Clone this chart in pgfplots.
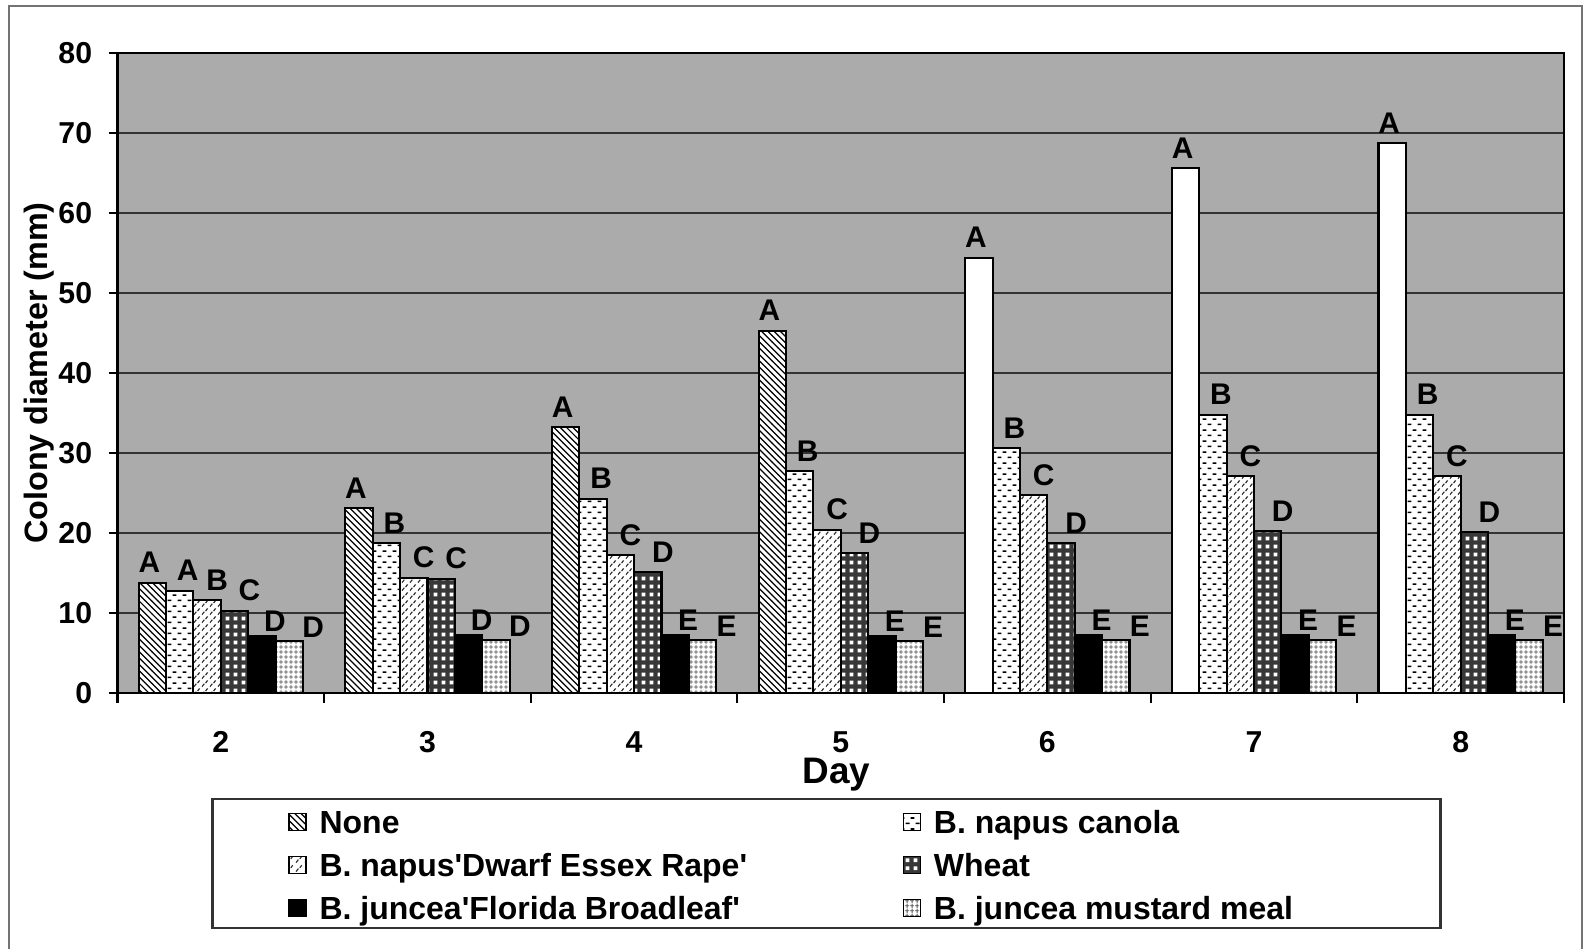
\documentclass[border=0pt]{standalone}
\usepackage{fontspec}
\setmainfont{Liberation Sans}
\usepackage{pgfplots}
\pgfplotsset{compat=1.18}
\usepackage{pgfplotstable}
\usetikzlibrary{patterns}

\pgfdeclarepatternformonly{nwfine}{\pgfqpoint{-0.5pt}{-0.5pt}}{\pgfqpoint{2.3pt}{2.3pt}}{\pgfqpoint{1.8pt}{1.8pt}}{%
  \pgfsetlinewidth{0.35pt}%
  \pgfpathmoveto{\pgfqpoint{0pt}{1.8pt}}%
  \pgfpathlineto{\pgfqpoint{1.86pt}{-0.06pt}}%
  \pgfusepath{stroke}}
\pgfdeclarepatternformonly{dashrows}{\pgfqpoint{0pt}{0pt}}{\pgfqpoint{2.8pt}{3.2pt}}{\pgfqpoint{2.8pt}{3.2pt}}{%
  \pgfsetlinewidth{0.5pt}%
  \pgfpathmoveto{\pgfqpoint{0.2pt}{0.8pt}}\pgfpathlineto{\pgfqpoint{1.3pt}{0.8pt}}%
  \pgfpathmoveto{\pgfqpoint{1.6pt}{2.4pt}}\pgfpathlineto{\pgfqpoint{2.7pt}{2.4pt}}%
  \pgfusepath{stroke}}
\pgfdeclarepatternformonly{squig}{\pgfqpoint{0pt}{0pt}}{\pgfqpoint{2.4pt}{2.4pt}}{\pgfqpoint{2.4pt}{2.4pt}}{%
  \pgfsetlinewidth{0.35pt}%
  \pgfpathmoveto{\pgfqpoint{0.3pt}{0.4pt}}\pgfpathlineto{\pgfqpoint{1.0pt}{1.3pt}}%
  \pgfpathmoveto{\pgfqpoint{1.4pt}{1.5pt}}\pgfpathlineto{\pgfqpoint{2.0pt}{2.3pt}}%
  \pgfusepath{stroke}}
\pgfdeclarepatternformonly{wsq}{\pgfqpoint{0pt}{0pt}}{\pgfqpoint{2.2pt}{2.2pt}}{\pgfqpoint{2.2pt}{2.2pt}}{%
  \pgfpathrectangle{\pgfqpoint{0.5pt}{0.5pt}}{\pgfqpoint{1.1pt}{1.1pt}}%
  \pgfusepath{fill}}
\pgfdeclarepatternformonly{finegrid}{\pgfqpoint{0pt}{0pt}}{\pgfqpoint{1.3pt}{1.3pt}}{\pgfqpoint{1.3pt}{1.3pt}}{%
  \pgfsetlinewidth{0.25pt}%
  \pgfpathmoveto{\pgfqpoint{0pt}{0.65pt}}\pgfpathlineto{\pgfqpoint{1.3pt}{0.65pt}}%
  \pgfpathmoveto{\pgfqpoint{0.65pt}{0pt}}\pgfpathlineto{\pgfqpoint{0.65pt}{1.3pt}}%
  \pgfusepath{stroke}}

\pgfplotstableread{
x y l
2 13.8 A
3 23.1 A
4 33.2 A
5 45.3 A
}\tnone
\pgfplotstableread{
x y l
6 54.4 A
7 65.6 A
8 68.7 A
}\tnonew
\pgfplotstableread{
x y l
2 12.8 A
3 18.7 B
4 24.3 B
5 27.7 B
6 30.6 B
7 34.8 B
8 34.8 B
}\tcanola
\pgfplotstableread{
x y l
2 11.6 B
3 14.4 C
4 17.2 C
5 20.4 C
6 24.7 C
7 27.1 C
8 27.1 C
}\tdwarf
\pgfplotstableread{
x y l
2 10.3 C
3 14.3 C
4 15.1 D
5 17.5 D
6 18.7 D
7 20.2 D
8 20.1 D
}\twheat
\pgfplotstableread{
x y l
2 7.1 D
3 7.2 D
4 7.2 E
5 7.1 E
6 7.2 E
7 7.2 E
8 7.2 E
}\tflorida
\pgfplotstableread{
x y l
2 6.5 D
3 6.6 D
4 6.6 E
5 6.5 E
6 6.6 E
7 6.6 E
8 6.6 E
}\tmustard

\newcommand{\lblfont}{\fontsize{8.5}{9}\selectfont\bfseries}

\begin{document}
\begin{tikzpicture}
\useasboundingbox (0,0) rectangle (15.87,-9.49);
\draw[black!55, line width=0.6pt] (0.09,-9.49) -- (0.09,-0.06) -- (15.82,-0.06) -- (15.82,-9.49);
\begin{axis}[
  at={(1.175cm,-6.93cm)}, anchor=south west,
  scale only axis, width=14.465cm, height=6.40cm,
  ybar, bar width=0.1325,
  xmin=1.5, xmax=8.5, ymin=0, ymax=80,
  xtick={2,...,8},
  minor xtick={1.5,2.5,...,8.5},
  ytick={0,10,...,80},
  tick align=outside, tick pos=left,
  every major x tick/.append style={draw=none},
  tick style={black, line width=0.6pt},
  major tick length=0.9mm, minor tick length=1mm,
  axis line style={black, line width=0.7pt},
  ymajorgrids, major grid style={black!80, line width=0.5pt},
  axis background/.style={fill=black!33},
  /pgf/number format/assume math mode=true,
  ticklabel style={font=\fontsize{8.6}{10}\selectfont\bfseries},
  xticklabel shift=1.7mm,
  yticklabel shift=0.4mm,
  ylabel={Colony diameter (mm)},
  ylabel style={font=\fontsize{9.2}{10}\selectfont\bfseries, at={(axis description cs:-0.0545,0.5)}, anchor=center},
  xlabel={Day},
  xlabel style={font=\fontsize{10.5}{12}\selectfont\bfseries, at={(axis description cs:0.497,-0.127)}, anchor=center},
  legend image code/.code={\draw[#1, line width=0.4pt] (0mm,-0.85mm) rectangle (1.7mm,0.85mm);},
  legend columns=2,
  legend cell align=left,
  legend style={at={(axis description cs:0.1180,-0.1836)}, anchor=north west,
    draw=none, fill=none, inner sep=0pt, outer sep=0pt, row sep=2.0mm,
    font=\fontsize{9.1}{10}\selectfont\bfseries,
    nodes={inner sep=0pt, text height=2.3mm, text depth=0pt},
    /tikz/every odd column/.append style={column sep=1.3mm},
    /tikz/every even column/.append style={column sep=0pt}},
  point meta=explicit symbolic,
  nodes near coords,
  nodes near coords style={font=\lblfont, text=black, anchor=south, inner sep=2.5pt},
]
\addplot[bar shift=-0.33125, draw=black, line width=0.6pt, fill=white, postaction={pattern=nwfine, pattern color=black},
  nodes near coords style={xshift=-0.3mm}] table[meta=l] {\tnone};
\addlegendentry{\makebox[58.3mm][l]{None}}
\addplot[bar shift=-0.19875, draw=black, line width=0.6pt, fill=white, postaction={pattern=dashrows, pattern color=black},
  nodes near coords style={xshift=0.8mm}] table[meta=l] {\tcanola};
\addlegendentry{B. napus canola}
\addplot[bar shift=-0.06625, draw=black, line width=0.6pt, fill=white, postaction={pattern=squig, pattern color=black!80},
  nodes near coords style={xshift=1.0mm}] table[meta=l] {\tdwarf};
\addlegendentry{\makebox[58.3mm][l]{B. napus\textquotesingle Dwarf Essex Rape\textquotesingle}}
\addplot[bar shift=0.06625, draw=black, line width=0.6pt, fill=black!78, postaction={pattern=wsq, pattern color=white},
  nodes near coords style={xshift=1.5mm}] table[meta=l] {\twheat};
\addlegendentry{Wheat}
\addplot[bar shift=0.19875, draw=black, line width=0.6pt, fill=black,
  nodes near coords style={xshift=1.3mm, yshift=-0.5mm}] table[meta=l] {\tflorida};
\addlegendentry{\makebox[58.3mm][l]{B. juncea\textquotesingle Florida Broadleaf\textquotesingle}}
\addplot[bar shift=0.33125, draw=black, line width=0.6pt, fill=white, postaction={pattern=finegrid, pattern color=black!65},
  nodes near coords style={xshift=2.4mm, yshift=-0.6mm}] table[meta=l] {\tmustard};
\addlegendentry{B. juncea mustard meal}
\addplot[forget plot, bar shift=-0.33125, draw=black, line width=0.6pt, fill=white,
  nodes near coords style={xshift=-0.3mm}] table[meta=l] {\tnonew};
\end{axis}
\draw[black!80, line width=0.6pt] (2.125,-7.99) rectangle (14.405,-9.28);
\end{tikzpicture}
\end{document}
